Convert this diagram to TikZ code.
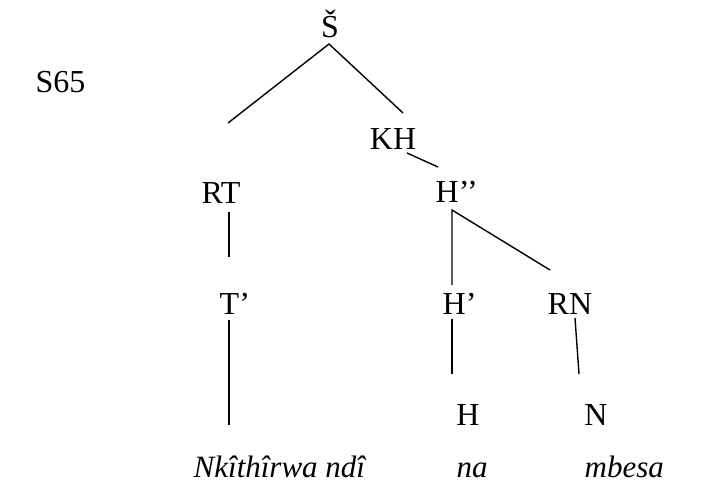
\documentclass[tikz,border=0pt]{standalone}
\usepackage{fontspec}
\setmainfont{Liberation Serif}
\begin{document}
\begin{tikzpicture}[x=1pt,y=-1pt,line width=1.4pt,font=\fontsize{32}{36}\selectfont,
  lbl/.style={inner sep=0pt,anchor=base},
  word/.style={inner sep=0pt,anchor=base west,font=\fontsize{31}{36}\selectfont\itshape}]
\useasboundingbox (0,0) rectangle (711,486);
% labels
\node[lbl,anchor=base west] (sno) at (35,93) {S65};
\node[lbl] (S) at (330,38) {Š};
\node[lbl] (KH) at (393,150) {KH};
\node[lbl] (RT) at (221,204) {RT};
\node[lbl,anchor=base west] (Hbb) at (435,203) {H’’};
\node[lbl,anchor=base west] (Tb) at (219,314) {T’};
\node[lbl,anchor=base west] (Hb) at (442,314) {H’};
\node[lbl,anchor=base west] (RN) at (547,314) {RN};
\node[lbl] (H) at (468,425) {H};
\node[lbl] (N) at (596,425) {N};
\node[word] (w1) at (193,477) {Nkîthîrwa ndî};
\node[word] (w2) at (456,477) {na};
\node[word] (w3) at (584,477) {mbesa};
% line ends
\coordinate (s0) at (329,44);
\coordinate (s1) at (228,123);
\coordinate (s2) at (403,113);
\coordinate (k0) at (407,153);
\coordinate (k1) at (438,167);
\coordinate (r0) at (229,212);
\coordinate (r1) at (229,257);
\coordinate (t0) at (229,320);
\coordinate (t1) at (229,425);
\coordinate (h0) at (452,210);
\coordinate (h1) at (452,285);
\coordinate (h2) at (550,270);
\coordinate (h3) at (452,319);
\coordinate (h4) at (452,374);
\coordinate (n0) at (575,318);
\coordinate (n1) at (579,374);
% branches
\draw (s1)--(s0)--(s2);
\draw (k0)--(k1);
\draw (r0)--(r1);
\draw (t0)--(t1);
\draw (h1)--(h0)--(h2);
\draw (h3)--(h4);
\draw (n0)--(n1);
\end{tikzpicture}
\end{document}
